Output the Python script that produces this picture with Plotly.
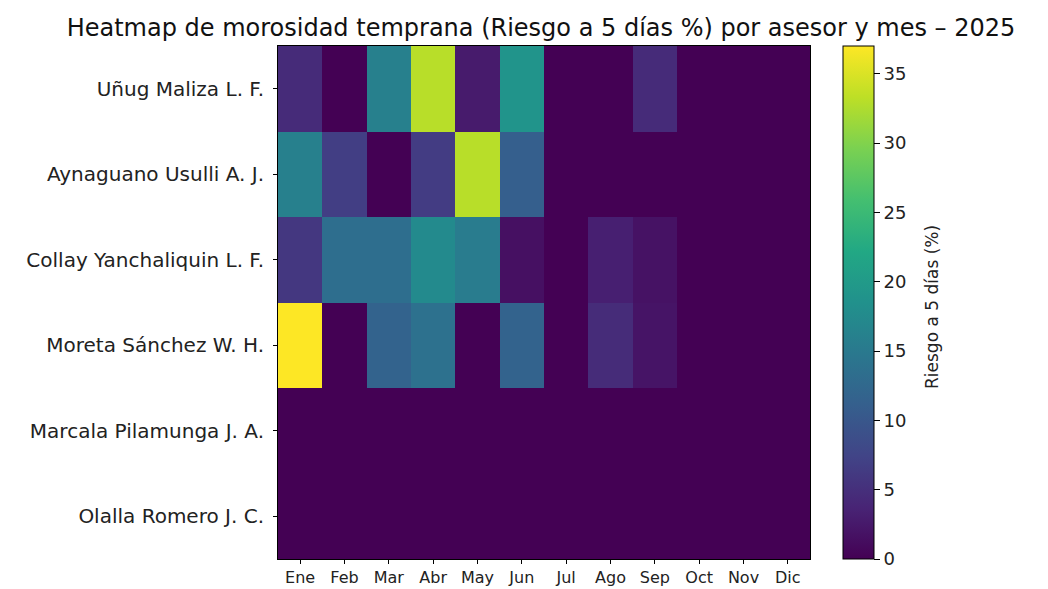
import plotly.graph_objects as go

# Asesores (filas, de arriba hacia abajo) y meses (columnas)
asesores = [
    "Uñug Maliza L. F.",
    "Aynaguano Usulli A. J.",
    "Collay Yanchaliquin L. F.",
    "Moreta Sánchez W. H.",
    "Marcala Pilamunga J. A.",
    "Olalla Romero J. C.",
]
meses = ["Ene", "Feb", "Mar", "Abr", "May", "Jun", "Jul", "Ago", "Sep", "Oct", "Nov", "Dic"]

# Riesgo a 5 días (%) por asesor y mes
riesgo_unug = [4.5, 0, 16.0, 33.0, 2.7, 19.0, 0, 0, 4.5, 0, 0, 0]
riesgo_aynaguano = [16.0, 6.7, 0, 6.5, 33.0, 11.1, 0, 0, 0, 0, 0, 0]
riesgo_collay = [5.9, 13.3, 13.3, 17.5, 15.4, 1.6, 0, 3.2, 1.8, 0, 0, 0]
riesgo_moreta = [37.0, 0, 11.7, 13.8, 0, 11.7, 0, 4.6, 2.0, 0, 0, 0]
riesgo_marcala = [0] * 12
riesgo_olalla = [0] * 12

z = [riesgo_unug, riesgo_aynaguano, riesgo_collay, riesgo_moreta, riesgo_marcala, riesgo_olalla]

# Escala viridis muestreada en 11 puntos
viridis = ["#440154", "#482475", "#414487", "#355f8d", "#2a788e", "#21918c",
           "#22a884", "#44bf70", "#7ad151", "#bddf26", "#fde725"]
colorscale = [[i / 10, c] for i, c in enumerate(viridis)]

W, H = 1048, 589
L, R, T, B = 278, 238, 46, 30
plot_w = W - L - R

fig = go.Figure(
    go.Heatmap(
        z=z,
        x=meses,
        y=asesores,
        colorscale=colorscale,
        zmin=0,
        zmax=37,
        colorbar=dict(
            x=(843 - L) / plot_w,
            xanchor="left",
            xref="paper",
            xpad=0,
            y=0,
            yanchor="bottom",
            ypad=0,
            len=1,
            lenmode="fraction",
            thickness=31,
            thicknessmode="pixels",
            outlinewidth=1,
            outlinecolor="black",
            tickvals=[0, 5, 10, 15, 20, 25, 30, 35],
            ticks="outside",
            ticklen=6,
            tickcolor="black",
            tickfont=dict(family="DejaVu Sans", size=18, color="#222"),
        ),
    )
)

# Etiqueta vertical de la barra de color
fig.add_annotation(
    text="Riesgo a 5 días (%)",
    textangle=-90,
    xref="paper",
    yref="paper",
    x=(932 - L) / plot_w,
    y=(H - B - 307) / (H - T - B),
    xanchor="center",
    yanchor="middle",
    showarrow=False,
    font=dict(family="DejaVu Sans", size=17, color="#222"),
)

fig.update_layout(
    width=W,
    height=H,
    margin=dict(l=L, r=R, t=T, b=B),
    paper_bgcolor="white",
    plot_bgcolor="white",
    title=dict(
        text="Heatmap de morosidad temprana (Riesgo a 5 días %) por asesor y mes – 2025",
        x=541 / W,
        xanchor="center",
        xref="container",
        y=1 - 28 / H,
        yanchor="middle",
        font=dict(family="DejaVu Sans", size=24, color="#111"),
    ),
    font=dict(family="DejaVu Sans"),
)

axis_style = dict(
    automargin=False,
    showline=True,
    mirror=True,
    linecolor="black",
    linewidth=1,
    ticks="outside",
    ticklen=4,
    tickcolor="black",
    showgrid=False,
    zeroline=False,
)
fig.update_xaxes(**axis_style, tickfont=dict(family="DejaVu Sans", size=16, color="#222"))
fig.update_yaxes(**axis_style, autorange="reversed", ticklabelstandoff=5,
                 tickfont=dict(family="DejaVu Sans", size=20, color="#222"))

fig.write_html("out.html")
